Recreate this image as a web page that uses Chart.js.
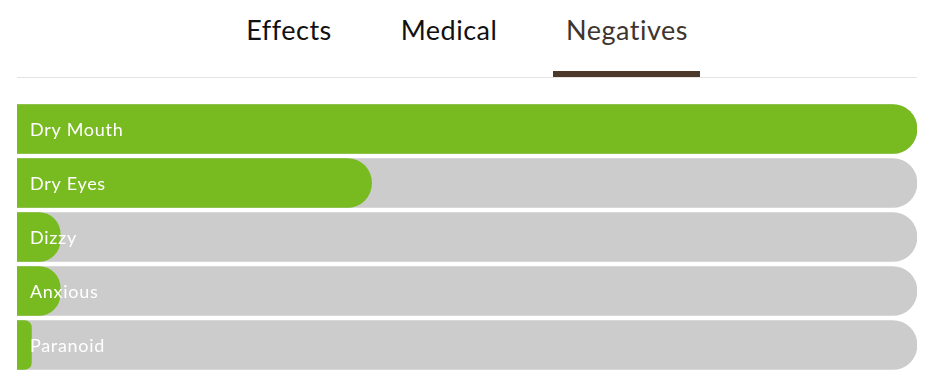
<!DOCTYPE html>
<html>
<head>
<meta charset="utf-8">
<script src="https://cdn.jsdelivr.net/npm/chart.js@4/dist/chart.umd.min.js"></script>
<style>
  html, body { margin: 0; padding: 0; background: #fff; }
  body { width: 928px; height: 386px; position: relative; overflow: hidden; font-family: Lato, sans-serif; }
  .tab { position: absolute; top: 16px; font-size: 27px; line-height: 1; letter-spacing: 0.5px; color: #111; transform: translateX(-50%); white-space: nowrap; }
  .tab.active { color: #3e3530; }
  .underline { position: absolute; left: 553px; top: 71px; width: 147px; height: 6px; background: #4b3a2b; }
  .rule { position: absolute; left: 17px; top: 77px; width: 900px; height: 1px; background: #e4e4e4; }
  #wrap { position: absolute; left: 17px; top: 102px; width: 900px; height: 270px; }
</style>
</head>
<body>
<div class="tab" style="left:289px">Effects</div>
<div class="tab" style="left:449px">Medical</div>
<div class="tab active" style="left:627px">Negatives</div>
<div class="rule"></div>
<div class="underline"></div>
<div id="wrap"><canvas id="chart"></canvas></div>
<script>
// dữ liệu
const labels = ['Dry Mouth', 'Dry Eyes', 'Dizzy', 'Anxious', 'Paranoid'];
const values = [100, 39.4, 4.8, 4.8, 1.6];
const maxValues = [100, 100, 100, 100, 100];

// vẽ nhãn trắng bên trong thanh
const insideLabels = {
    id: 'insideLabels',
    afterDatasetsDraw(chart) {
        const ctx = chart.ctx;
        const meta = chart.getDatasetMeta(0);
        ctx.save();
        ctx.fillStyle = '#fff';
        ctx.font = '18px Lato, sans-serif';
        ctx.letterSpacing = '0.7px';
        ctx.textBaseline = 'middle';
        meta.data.forEach((bar, i) => {
            ctx.fillText(labels[i], bar.base + 13, bar.y + 1);
        });
        ctx.restore();
    }
};

const ctx = document.getElementById('chart').getContext('2d');
new Chart(ctx, {
    type: 'bar',
    data: {
        labels: labels,
        datasets: [
            {
                data: values,
                backgroundColor: '#78bb20',
                borderRadius: 25,
                barThickness: 49,
                grouped: false,
                order: 0
            },
            {
                data: maxValues,
                backgroundColor: '#cccccc',
                borderRadius: 25,
                barThickness: 49,
                grouped: false,
                order: 1
            }
        ]
    },
    options: {
        indexAxis: 'y',
        responsive: true,
        maintainAspectRatio: false,
        animation: false,
        layout: { padding: 0 },
        scales: {
            x: { display: false, min: 0, max: 100 },
            y: { display: false }
        },
        plugins: { legend: { display: false }, tooltip: { enabled: false } }
    },
    plugins: [insideLabels]
});
</script>
</body>
</html>
